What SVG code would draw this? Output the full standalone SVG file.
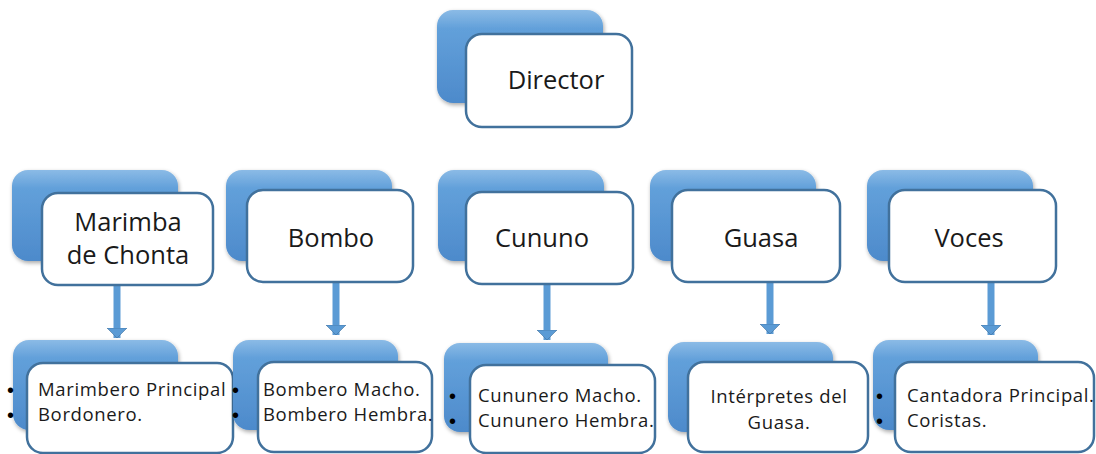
<svg xmlns="http://www.w3.org/2000/svg" width="1096" height="454" viewBox="0 0 1096 454">
<defs>
<linearGradient id="bg" x1="0" y1="0" x2="0" y2="1">
<stop offset="0" stop-color="#8bbbe6"/>
<stop offset="0.2" stop-color="#62a0da"/>
<stop offset="1" stop-color="#4d8acb"/>
</linearGradient>
<filter id="sh" x="-10%" y="-10%" width="130%" height="130%">
<feGaussianBlur in="SourceAlpha" stdDeviation="2"/>
<feOffset dx="1" dy="2"/>
<feComponentTransfer><feFuncA type="linear" slope="0.35"/></feComponentTransfer>
<feMerge><feMergeNode/><feMergeNode in="SourceGraphic"/></feMerge>
</filter>
<marker id="ah" viewBox="0 0 10 20" refX="10" refY="10" markerWidth="10" markerHeight="20" markerUnits="userSpaceOnUse" orient="auto">
<path d="M0,0 L10,10 L0,20 Z" fill="#5b9bd5" stroke="#41719c" stroke-width="0.6"/>
</marker>
</defs>
<style>
.back{fill:url(#bg);filter:url(#sh)}
.front{fill:#ffffff;stroke:#41719c;stroke-width:2.5}
.t{font-family:"Open Sans","Liberation Sans",sans-serif;fill:#1a1a1a}
.big{font-size:25.5px;text-anchor:middle}
.small{font-size:18.5px;letter-spacing:0.65px}
.b{font-family:"Liberation Sans",sans-serif;font-size:20px;fill:#000}
.conn{stroke:#5b9bd5;stroke-width:7;fill:none}
</style>
<rect width="1096" height="454" fill="#ffffff"/>

<g id="connectors">
<line class="conn" x1="117" y1="286" x2="117" y2="338" marker-end="url(#ah)"/>
<line class="conn" x1="336" y1="283" x2="336" y2="335" marker-end="url(#ah)"/>
<line class="conn" x1="547" y1="285" x2="547" y2="340" marker-end="url(#ah)"/>
<line class="conn" x1="770" y1="283" x2="770" y2="334" marker-end="url(#ah)"/>
<line class="conn" x1="991" y1="283" x2="991" y2="335" marker-end="url(#ah)"/>
</g>

<g id="director">
<rect class="back" x="437" y="10" width="166" height="93" rx="16"/>
<rect class="front" x="466" y="34" width="166" height="93" rx="16"/>
<text class="t big" x="556" y="89">Director</text>
</g>

<g id="marimba">
<rect class="back" x="12" y="170" width="166" height="91" rx="16"/>
<rect class="front" x="42" y="193" width="171" height="92" rx="16"/>
<text class="t big" x="128" y="231">Marimba</text>
<text class="t big" x="128" y="264">de Chonta</text>
</g>

<g id="bombo">
<rect class="back" x="226" y="170" width="166" height="91" rx="16"/>
<rect class="front" x="247" y="190" width="166" height="92" rx="16"/>
<text class="t big" x="331" y="247">Bombo</text>
</g>

<g id="cununo">
<rect class="back" x="438" y="170" width="166" height="91" rx="16"/>
<rect class="front" x="466" y="192" width="167" height="92" rx="16"/>
<text class="t big" x="542" y="247">Cununo</text>
</g>

<g id="guasa">
<rect class="back" x="650" y="170" width="166" height="91" rx="16"/>
<rect class="front" x="672" y="190" width="168" height="92" rx="16"/>
<text class="t big" x="761" y="247">Guasa</text>
</g>

<g id="voces">
<rect class="back" x="867" y="170" width="166" height="91" rx="16"/>
<rect class="front" x="889" y="190" width="167" height="92" rx="16"/>
<text class="t big" x="969" y="247">Voces</text>
</g>

<g id="marimba-sub">
<rect class="back" x="13" y="340" width="165" height="90" rx="16"/>
<rect class="front" x="27" y="363" width="206" height="90" rx="16"/>
<text class="b" x="7" y="397">•</text>
<text class="b" x="7" y="422">•</text>
<text class="t small" x="38" y="396">Marimbero Principal</text>
<text class="t small" x="38" y="421">Bordonero.</text>
</g>

<g id="bombo-sub">
<rect class="back" x="233" y="340" width="165" height="90" rx="16"/>
<rect class="front" x="258" y="362" width="174" height="90" rx="16"/>
<text class="b" x="232" y="397">•</text>
<text class="b" x="232" y="422">•</text>
<text class="t small" x="263" y="396">Bombero Macho.</text>
<text class="t small" x="263" y="421">Bombero Hembra.</text>
</g>

<g id="cununo-sub">
<rect class="back" x="444" y="343" width="164" height="89" rx="16"/>
<rect class="front" x="470" y="365" width="185" height="88" rx="16"/>
<text class="b" x="449" y="403">•</text>
<text class="b" x="449" y="428">•</text>
<text class="t small" x="478" y="402">Cununero Macho.</text>
<text class="t small" x="478" y="427">Cununero Hembra.</text>
</g>

<g id="guasa-sub">
<rect class="back" x="668" y="342" width="165" height="90" rx="16"/>
<rect class="front" x="688" y="362" width="180" height="90" rx="16"/>
<text class="t small" x="779" y="403" text-anchor="middle">Intérpretes del</text>
<text class="t small" x="779" y="429" text-anchor="middle">Guasa.</text>
</g>

<g id="voces-sub">
<rect class="back" x="873" y="340" width="165" height="90" rx="16"/>
<rect class="front" x="895" y="362" width="199" height="90" rx="16"/>
<text class="b" x="876" y="403">•</text>
<text class="b" x="876" y="428">•</text>
<text class="t small" x="907" y="402">Cantadora Principal.</text>
<text class="t small" x="907" y="427">Coristas.</text>
</g>
</svg>
